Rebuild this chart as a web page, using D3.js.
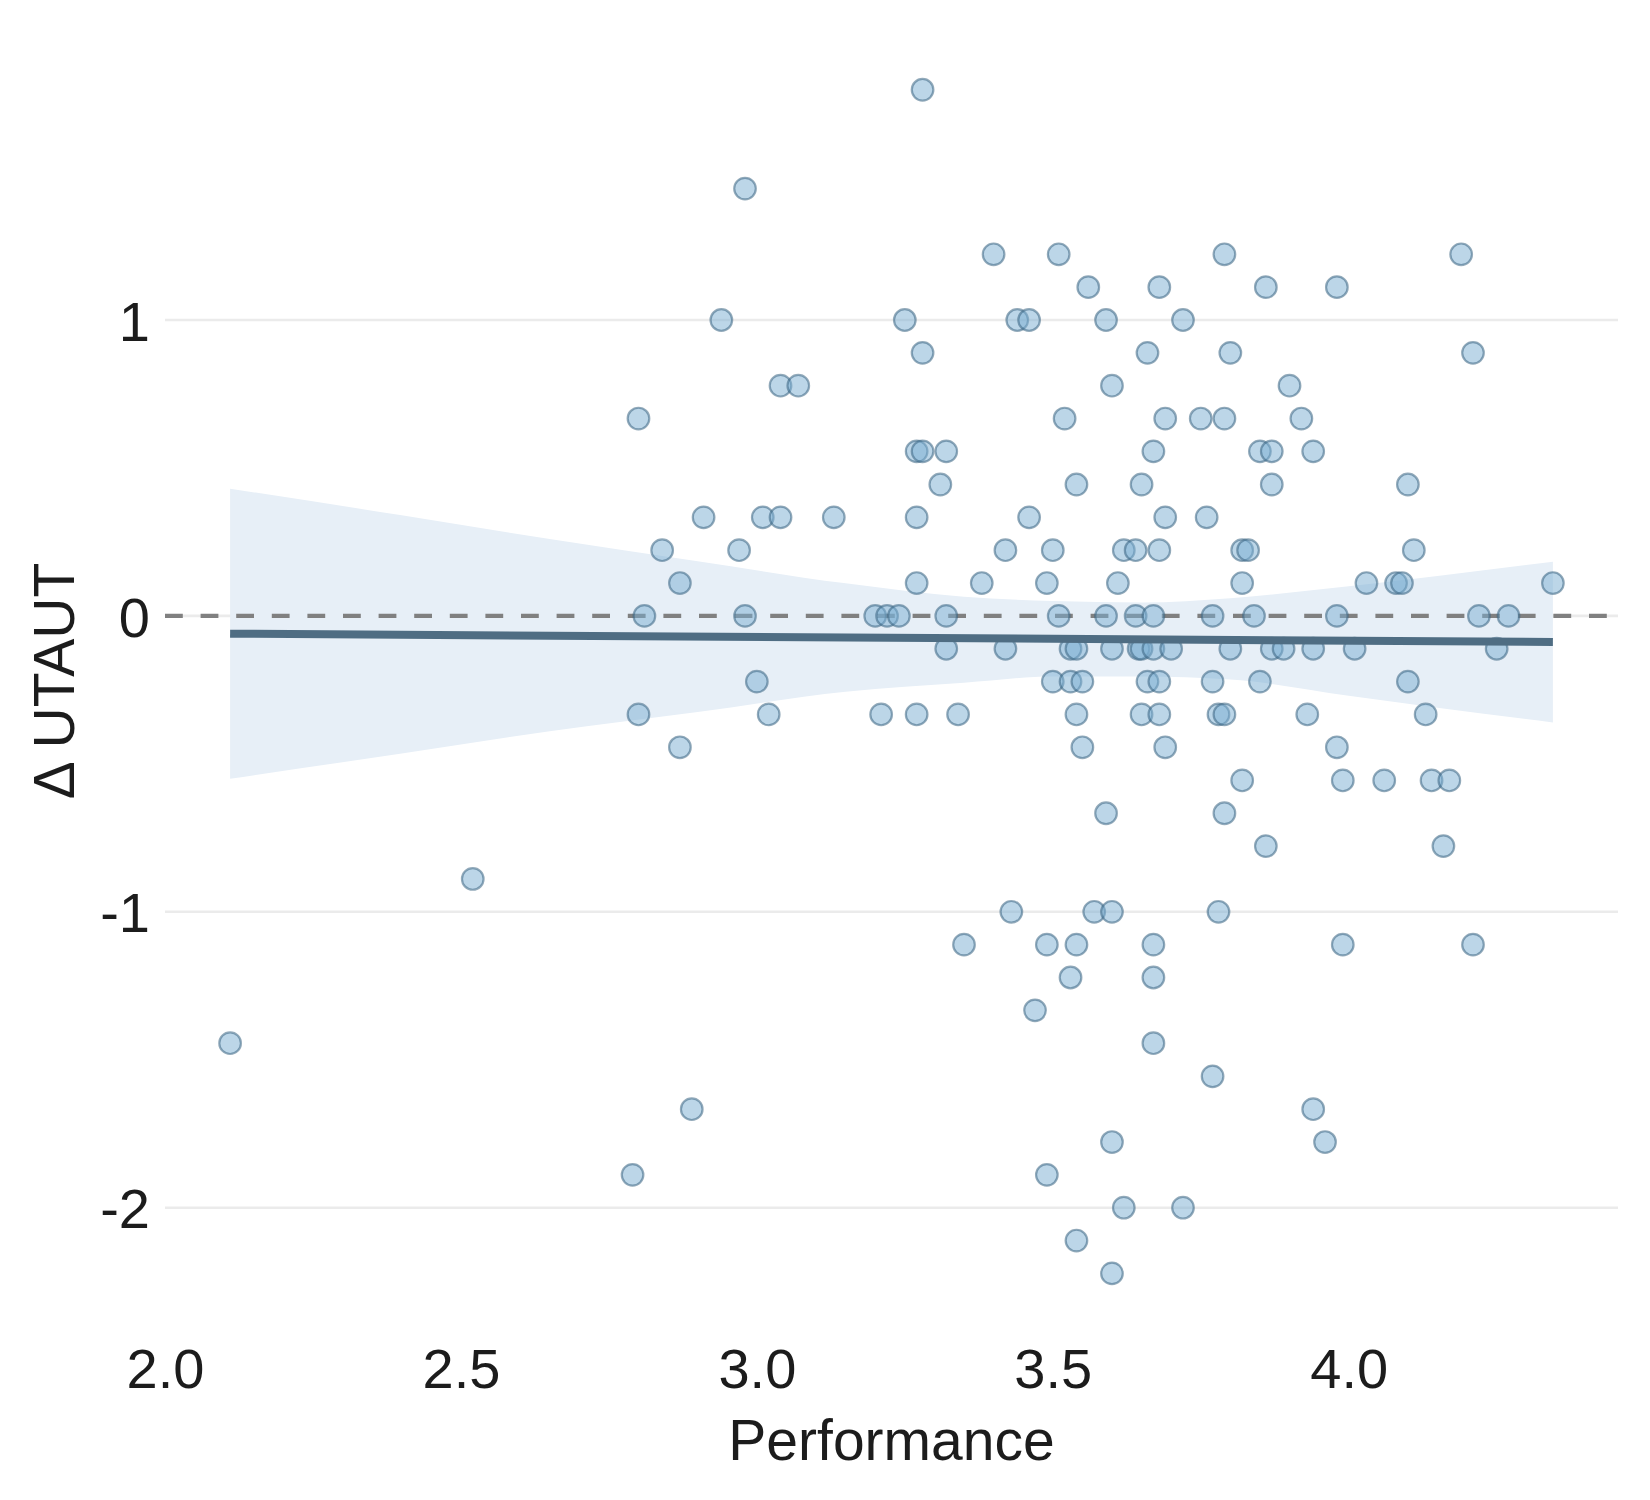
<!DOCTYPE html>
<html>
<head>
<meta charset="utf-8">
<script src="https://cdn.jsdelivr.net/npm/d3@7"></script>
<style>
  body { margin: 0; background: #fff; }
  svg { display: block; font-family: "Liberation Sans", Arial, sans-serif; }
</style>
</head>
<body>
<div id="chart"></div>
<script>
// ---- data ----
// Δ UTAUT comes in steps of 1/9; each row lists the Performance values at that level
const deltaRows = [
  1.778, 1.444, 1.222, 1.111, 1.0, 0.889, 0.778, 0.667, 0.556, 0.444, 0.333, 0.222, 0.111,
  0, -0.111, -0.222, -0.333, -0.444, -0.556, -0.667, -0.778, -0.889, -1.0, -1.111,
  -1.222, -1.333, -1.444, -1.556, -1.667, -1.778, -1.889, -2.0, -2.111, -2.222,
];
const performanceRows = [
  [3.28],
  [2.98],
  [3.40, 3.51, 3.79, 4.19],
  [3.56, 3.68, 3.86, 3.98],
  [2.94, 3.25, 3.44, 3.46, 3.59, 3.72],
  [3.28, 3.66, 3.80, 4.21],
  [3.04, 3.07, 3.60, 3.90],
  [2.80, 3.52, 3.69, 3.75, 3.79, 3.92],
  [3.27, 3.28, 3.32, 3.67, 3.85, 3.87, 3.94],
  [3.31, 3.54, 3.65, 3.87, 4.10],
  [2.91, 3.01, 3.04, 3.13, 3.27, 3.46, 3.69, 3.76],
  [2.84, 2.97, 3.42, 3.50, 3.62, 3.64, 3.68, 3.82, 3.83, 4.11],
  [2.87, 3.27, 3.38, 3.49, 3.61, 3.82, 4.03, 4.08, 4.09, 4.345],
  [2.81, 2.98, 3.20, 3.22, 3.24, 3.32, 3.51, 3.59, 3.64, 3.67, 3.77, 3.84, 3.98, 4.22, 4.27],
  [3.32, 3.42, 3.53, 3.54, 3.60, 3.645, 3.65, 3.67, 3.70, 3.80, 3.87, 3.89, 3.94, 4.01, 4.25],
  [3.00, 3.50, 3.53, 3.55, 3.66, 3.68, 3.77, 3.85, 4.10],
  [2.80, 3.02, 3.21, 3.27, 3.34, 3.54, 3.65, 3.68, 3.78, 3.79, 3.93, 4.13],
  [2.87, 3.55, 3.69, 3.98],
  [3.82, 3.99, 4.06, 4.14, 4.17],
  [3.59, 3.79],
  [3.86, 4.16],
  [2.52],
  [3.43, 3.57, 3.60, 3.78],
  [3.35, 3.49, 3.54, 3.67, 3.99, 4.21],
  [3.53, 3.67],
  [3.47],
  [2.11, 3.67],
  [3.77],
  [2.89, 3.94],
  [3.60, 3.96],
  [2.79, 3.49],
  [3.62, 3.72],
  [3.54],
  [3.60],
];

// fitted line and its confidence band
const fitX = [2.11, 4.345];
const fitY = [-0.06, -0.088];
const bandX = [2.11, 2.40, 2.65, 2.90, 3.15, 3.35, 3.50, 3.65, 3.80, 4.00, 4.15, 4.345];
const bandUpper = [0.43, 0.34, 0.26, 0.185, 0.11, 0.065, 0.05, 0.045, 0.06, 0.10, 0.135, 0.183];
const bandLower = [-0.55, -0.465, -0.39, -0.325, -0.256, -0.226, -0.205, -0.205, -0.215, -0.27, -0.31, -0.36];

const xTicks = [2.0, 2.5, 3.0, 3.5, 4.0];
const yTicks = [-2, -1, 0, 1];

const COLOR = {
  grid: "#ebebeb",
  band: "#e7eff7",
  zero: "#808080",
  dotFill: "#79add1",
  dotStroke: "#3a6482",
  fit: "#4f6d83",
  text: "#1c1c1c",
};

// ---- layout ----
const width = 1650;
const height = 1500;
const plot = { left: 165, right: 1618, top: 30, bottom: 1332 };

const x = d3.scaleLinear().domain([2.0, 4.455]).range([plot.left, plot.right]);
const y = d3.scaleLinear().domain([-2.42, 1.98]).range([plot.bottom, plot.top]);

const points = deltaRows.flatMap((d, i) => performanceRows[i].map((p) => ({ p, d })));

const svg = d3.select("#chart")
  .append("svg")
  .attr("width", width)
  .attr("height", height);

// ---- horizontal grid ----
svg.append("g")
  .selectAll("line")
  .data(yTicks)
  .join("line")
  .attr("x1", plot.left)
  .attr("x2", plot.right)
  .attr("y1", (d) => y(d))
  .attr("y2", (d) => y(d))
  .attr("stroke", COLOR.grid)
  .attr("stroke-width", 2.6);

// ---- confidence band ----
const bandData = bandX.map((v, i) => ({ x: v, lo: bandLower[i], hi: bandUpper[i] }));
svg.append("path")
  .datum(bandData)
  .attr("fill", COLOR.band)
  .attr("d", d3.area()
    .x((d) => x(d.x))
    .y0((d) => y(d.lo))
    .y1((d) => y(d.hi))
    .curve(d3.curveMonotoneX));

// ---- zero reference ----
svg.append("line")
  .attr("x1", plot.left)
  .attr("x2", plot.right)
  .attr("y1", y(0))
  .attr("y2", y(0))
  .attr("stroke", COLOR.zero)
  .attr("stroke-width", 4.2)
  .attr("stroke-dasharray", "17.8,17.8");

// ---- scatter ----
svg.append("g")
  .selectAll("circle")
  .data(points)
  .join("circle")
  .attr("cx", (d) => x(d.p))
  .attr("cy", (d) => y(d.d))
  .attr("r", 10.8)
  .attr("fill", COLOR.dotFill)
  .attr("fill-opacity", 0.5)
  .attr("stroke", COLOR.dotStroke)
  .attr("stroke-opacity", 0.55)
  .attr("stroke-width", 2.2);

// ---- regression line ----
svg.append("path")
  .datum(fitX.map((v, i) => [v, fitY[i]]))
  .attr("fill", "none")
  .attr("stroke", COLOR.fit)
  .attr("stroke-width", 8)
  .attr("d", d3.line().x((d) => x(d[0])).y((d) => y(d[1])));

// ---- axes (labels only, no domain or ticks) ----
const xAxis = svg.append("g")
  .attr("transform", `translate(0,${plot.bottom})`)
  .call(d3.axisBottom(x).tickValues(xTicks).tickFormat(d3.format(".1f")).tickSize(0).tickPadding(16));
const yAxis = svg.append("g")
  .attr("transform", `translate(${plot.left},0)`)
  .call(d3.axisLeft(y).tickValues(yTicks).tickFormat((d) => String(d)).tickSize(0).tickPadding(15));

[xAxis, yAxis].forEach((a) => {
  a.select(".domain").remove();
  a.selectAll("text")
    .attr("font-family", "'Liberation Sans', Arial, sans-serif")
    .attr("font-size", 56)
    .attr("fill", COLOR.text);
});
yAxis.selectAll("text").attr("dy", "0.36em");

svg.append("text")
  .attr("x", (plot.left + plot.right) / 2)
  .attr("y", 1460)
  .attr("text-anchor", "middle")
  .attr("font-size", 57)
  .attr("fill", COLOR.text)
  .text("Performance");

svg.append("text")
  .attr("transform", `translate(74,${(plot.top + plot.bottom) / 2}) rotate(-90)`)
  .attr("text-anchor", "middle")
  .attr("font-size", 57)
  .attr("fill", COLOR.text)
  .text("Δ UTAUT");
</script>
</body>
</html>
